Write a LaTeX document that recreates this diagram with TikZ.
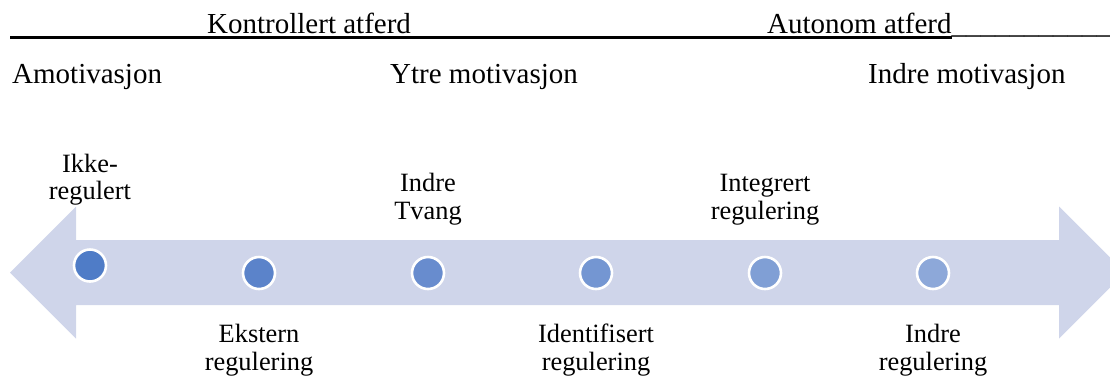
\documentclass[tikz,border=0pt]{standalone}
\usepackage{fontspec}
\setmainfont{Liberation Serif}
\definecolor{arrowfill}{RGB}{207,213,234}
\definecolor{dotA}{RGB}{79,124,199}
\definecolor{dotB}{RGB}{91,131,202}
\definecolor{dotC}{RGB}{104,140,206}
\definecolor{dotD}{RGB}{116,150,210}
\definecolor{dotE}{RGB}{128,159,213}
\definecolor{dotF}{RGB}{141,168,217}
\begin{document}
\begin{tikzpicture}[x=1pt,y=-1pt,
  head/.style={anchor=base west,inner sep=0pt,font=\fontsize{29}{33}\selectfont},
  lbl/.style={anchor=base,inner sep=0pt,align=center,font=\fontsize{26.4}{27.3}\selectfont},
  dotnode/.style={circle,minimum size=32pt,inner sep=0pt,draw=white,line width=2.6pt}]
\useasboundingbox (0,0) rectangle (1110,376);
% big double arrow
\fill[arrowfill] (10,272.5) -- (76,206.5) -- (76,240) -- (1059,240) -- (1059,206.5)
  -- (1125,272.5) -- (1059,338.5) -- (1059,305) -- (76,305) -- (76,338.5) -- cycle;
% top rule
\coordinate (ruleL) at (10,37.7);
\coordinate (ruleR) at (952,37.7);
\draw[line width=2.7pt] (ruleL) -- (ruleR);
% headings
\node[head] (kontr) at (207,33.3) {Kontrollert atferd};
\node[head] (auton) at (767,33.3) {Autonom atferd\_\_\_\_\_\_\_\_\_\_\_};
\node[head] (amot) at (12,83.5) {Amotivasjon};
\node[head] (ytre) at (390,83.5) {Ytre motivasjon};
\node[head] (indre) at (868,83.5) {Indre motivasjon};
% dots
\node[dotnode,fill=dotA] (d1) at (90,265.5) {};
\node[dotnode,fill=dotB] (d2) at (259,273) {};
\node[dotnode,fill=dotC] (d3) at (428,273) {};
\node[dotnode,fill=dotD] (d4) at (596,273) {};
\node[dotnode,fill=dotE] (d5) at (765,273) {};
\node[dotnode,fill=dotF] (d6) at (933,273) {};
% labels (anchored at the baseline of the last line)
\node[lbl] (l1) at (90,199.3) {Ikke-\\regulert};
\node[lbl] (l2) at (259,370) {Ekstern\\regulering};
\node[lbl] (l3) at (428,219) {Indre\\Tvang};
\node[lbl] (l4) at (596,370) {Identifisert\\regulering};
\node[lbl] (l5) at (765,219) {Integrert\\regulering};
\node[lbl] (l6) at (933,370) {Indre\\regulering};
\end{tikzpicture}
\end{document}
